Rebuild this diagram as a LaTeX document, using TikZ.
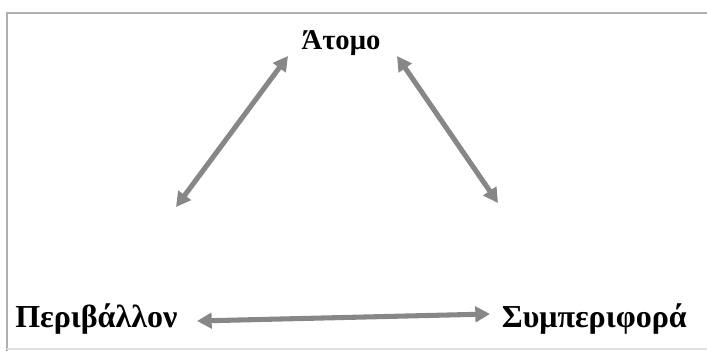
\documentclass[tikz,border=0pt]{standalone}
\usepackage{fontspec}
\setmainfont{Liberation Serif}
\usepackage{tikz}
\usetikzlibrary{arrows.meta}
\definecolor{linkgray}{RGB}{135,135,135}
\definecolor{framegray}{RGB}{175,175,175}

\begin{document}
\begin{tikzpicture}[x=0.75pt,y=-0.75pt,>={Triangle[length=11pt,width=11.5pt]}]
  \tikzset{
    term/.style={inner sep=0pt,font=\fontsize{24}{28}\selectfont\bfseries},
    link/.style={draw=linkgray,line width=3.8pt,<->},
    frame/.style={draw=framegray,line width=1.4pt},
  }
  \useasboundingbox (0,0) rectangle (707,351);
  \draw[frame] (707,13) -- (7,13) -- (7,351);
  \draw[framegray!40,line width=1pt] (7,349) -- (707,349);

  \node[term,anchor=base,font=\fontsize{21.5}{26}\selectfont\bfseries] (atomo) at (341,49) {Άτομο};
  \node[term,anchor=base west] (perib) at (15,327) {Περιβάλλον};
  \node[term,anchor=base east] (symp) at (687,327) {Συμπεριφορά};

  \coordinate (a1) at (288,56); \coordinate (p1) at (176,207);
  \coordinate (a2) at (397,56); \coordinate (s1) at (498,203);
  \coordinate (p2) at (197,321); \coordinate (s2) at (490,314);

  \draw[link] (p1) -- (a1);
  \draw[link] (a2) -- (s1);
  \draw[link] (p2) -- (s2);
\end{tikzpicture}
\end{document}
